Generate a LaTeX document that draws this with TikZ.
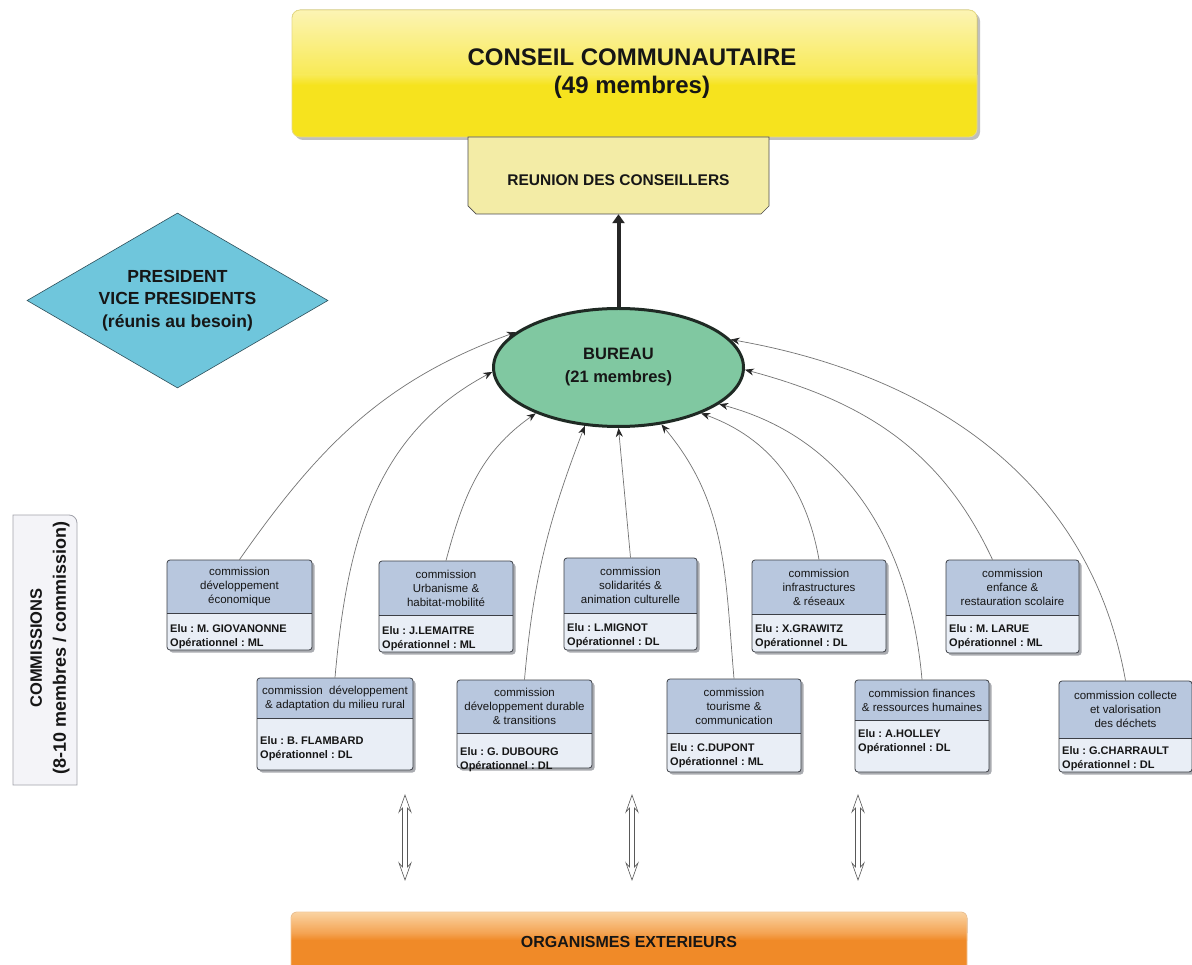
\documentclass[tikz,border=0pt]{standalone}
\usepackage{fontspec}
\setmainfont{Liberation Sans}
\usetikzlibrary{arrows.meta,shapes.geometric}
\frenchspacing

\definecolor{txt}{HTML}{161616}
\definecolor{yelMain}{HTML}{F6E31E}
\definecolor{yelTop}{HTML}{FCF4B4}
\definecolor{yelMid}{HTML}{F8EA55}
\definecolor{yelBorder}{HTML}{E6DA86}
\definecolor{reuFill}{HTML}{F3ECA6}
\definecolor{diaFill}{HTML}{6FC6DC}
\definecolor{diaBorder}{HTML}{2E4F5A}
\definecolor{burFill}{HTML}{80C8A1}
\definecolor{burBorder}{HTML}{1F2A24}
\definecolor{hdrFill}{HTML}{B8C7DE}
\definecolor{bodyFill}{HTML}{E9EEF6}
\definecolor{frameCol}{HTML}{3C3F46}
\definecolor{shadowCol}{HTML}{A9ABB0}
\definecolor{orMain}{HTML}{F08A28}
\definecolor{orTop}{HTML}{FAD3A2}
\definecolor{orMid}{HTML}{F4A352}
\definecolor{orBorder}{HTML}{F2C89A}
\definecolor{leftFill}{HTML}{F4F4F8}
\definecolor{leftBorder}{HTML}{A2A3AB}

\tikzset{
  conn/.style={draw=black!55, line width=0.7pt,
    -{Stealth[length=9pt,width=7pt,color=black!85]}},
  hdrtext/.style={font=\fontsize{11.5}{14}\selectfont, align=center, text=txt, inner sep=0pt},
  bodytext/.style={font=\bfseries\fontsize{11}{14}\selectfont, align=left, text=txt, inner sep=0pt},
  framebox/.style={draw=frameCol, line width=0.8pt, rounded corners=3pt, inner sep=0pt},
  hollowarrow/.style={draw=black!65, fill=white, line width=0.6pt, line join=miter},
}

% #1 name, #2 x1, #3 y1, #4 x2, #5 y header bottom, #6 y2, #7 header, #8 body, #9 y of first body line centre
\newcommand\CommBox[9]{%
  \fill[shadowCol, rounded corners=3pt] (#2+2.5,-#3-2.5) rectangle (#4+2.5,-#6-2.5);
  \fill[bodyFill, rounded corners=3pt] (#2,-#3) rectangle (#4,-#6);
  \fill[hdrFill] (#2,-#5) [rounded corners=3pt] -- (#2,-#3) -- (#4,-#3) [sharp corners] -- (#4,-#5) -- cycle;
  \draw[frameCol, line width=0.6pt] (#2,-#5) -- (#4,-#5);
  \node[framebox, minimum width={#4-#2}, minimum height={#6-#3}] (#1) at ({(#2+#4)/2},{-(#3+#6)/2}) {};
  \node[hdrtext] (#1h) at ({(#2+#4)/2},{-(#3+#5)/2}) {#7};
  \node[bodytext, anchor=north west] (#1b) at (#2+3,-#9+4) {#8};
}

\newcommand\HollowArrow[1]{%
  \draw[hollowarrow, shift={(#1)}] (0,0) -- (6,-17) -- (2.5,-13) -- (2.5,-72) -- (6,-68) -- (0,-85)
    -- (-6,-68) -- (-2.5,-72) -- (-2.5,-13) -- (-6,-17) -- cycle;
}

\begin{document}
\begin{tikzpicture}[x=1pt,y=1pt]
\useasboundingbox (0,0) rectangle (1192,-965);
\fill[white] (0,0) rectangle (1192,-965);

% ---------- Conseil communautaire ----------
\fill[black!25, rounded corners=8pt] (295,-13) rectangle (980,-140);
\fill[yelMain, rounded corners=8pt] (292,-10) rectangle (977,-137);
\fill[top color=yelTop, bottom color=yelMid] (292,-75) [rounded corners=8pt] -- (292,-10) -- (977,-10) [sharp corners] -- (977,-75) -- cycle;
\fill[top color=yelMid, bottom color=yelMain] (292,-75) rectangle (977,-85);
\draw[yelBorder, line width=0.8pt, rounded corners=8pt] (292,-10) rectangle (977,-137);
\node[font=\bfseries\fontsize{24}{28}\selectfont, align=center, text=txt, minimum width=685pt, minimum height=127pt, inner sep=0pt]
  (conseil) at (632,-74) {CONSEIL COMMUNAUTAIRE\\(49 membres)};

% ---------- Reunion des conseillers ----------
\draw[fill=reuFill, draw=black!70, line width=0.7pt] (468,-137) -- (769,-137) -- (769,-206) -- (761,-214) -- (476,-214) -- (468,-206) -- cycle;
\node[font=\bfseries\fontsize{15.5}{18}\selectfont, text=txt, minimum width=301pt, minimum height=68pt, inner sep=0pt]
  (reunion) at (618.5,-180) {REUNION DES CONSEILLERS};

% ---------- President diamond ----------
\node[diamond, draw=diaBorder, fill=diaFill, line width=0.6pt, aspect=1.72, inner sep=0pt,
  minimum width=301pt, minimum height=175pt,
  font=\bfseries\fontsize{17.5}{22.5}\selectfont, align=center, text=txt]
  (pres) at (177.5,-300.5) {PRESIDENT\\VICE PRESIDENTS\\(réunis au besoin)};

% ---------- Bureau ----------
\node[ellipse, draw=burBorder, line width=3pt, fill=burFill, minimum width=250pt, minimum height=118pt,
  inner sep=0pt, font=\bfseries\fontsize{16.5}{23}\selectfont, align=center, text=txt]
  (bureau) at (618.5,-367.5) {BUREAU\\(21 membres)};

\draw[line width=4pt, draw=black!85, -{Triangle[length=9pt,width=12pt]}] (bureau.north) -- (reunion.south);

% ---------- Left label box ----------
\draw[fill=leftFill, draw=leftBorder, line width=0.8pt] (13,-785) -- (13,-515) -- (69,-515) arc[start angle=90,end angle=0,radius=8] -- (77,-785) -- cycle;
\node[rotate=90, font=\bfseries\fontsize{16.5}{24}\selectfont, align=center, text=txt, inner sep=0pt]
  (commlabel) at (50,-648) {COMMISSIONS\\\fontsize{18}{24}\selectfont(8-10 membres / commission)};

% ---------- Commissions ----------
\CommBox{c1}{167}{560}{312}{613}{650}{commission\\développement\\économique}{Elu : M. GIOVANONNE\\Opérationnel : ML}{628}
\CommBox{c3}{379}{561}{513}{615}{652}{commission\\Urbanisme \&\\habitat-mobilité}{Elu : J.LEMAITRE\\Opérationnel : ML}{630}
\CommBox{c5}{564}{558}{697}{613}{650}{commission\\solidarités \&\\animation culturelle}{Elu : L.MIGNOT\\Opérationnel : DL}{627}
\CommBox{c7}{752}{560}{886}{614}{652}{commission\\infrastructures\\\& réseaux}{Elu : X.GRAWITZ\\Opérationnel : DL}{628}
\CommBox{c9}{946}{560}{1079}{615}{653}{commission\\enfance \&\\restauration scolaire}{Elu : M. LARUE\\Opérationnel : ML}{628}
\CommBox{c2}{257}{678}{413}{718}{770}{commission~ développement\\\& adaptation du milieu rural}{Elu : B. FLAMBARD\\Opérationnel : DL}{740}
\CommBox{c4}{457}{680}{592}{733}{768}{commission\\développement durable\\\& transitions}{Elu : G. DUBOURG\\Opérationnel : DL}{751}
\CommBox{c6}{667}{679}{801}{733}{772}{commission\\tourisme \&\\communication}{Elu : C.DUPONT\\Opérationnel : ML}{747}
\CommBox{c8}{855}{680}{989}{720}{772}{commission finances\\\& ressources humaines}{Elu : A.HOLLEY\\Opérationnel : DL}{733}
\CommBox{c10}{1059}{681}{1192}{738}{772}{commission collecte\\et valorisation\\des déchets}{Elu : G.CHARRAULT\\Opérationnel : DL}{750}

% ---------- Connectors to bureau ----------
\draw[conn] (c1.north) to[out=55,in=200] (bureau.161);
\draw[conn] (c2.north) to[out=85,in=208] (bureau.182);
\draw[conn] (c3.north) to[out=75,in=215] (bureau.209);
\draw[conn] (c4.north) to[out=85,in=249] (bureau.240);
\draw[conn] (c5.north) -- (bureau.270);
\draw[conn] (c6.north) to[out=95,in=-50] (bureau.307);
\draw[conn] (c7.north) to[out=100,in=-20] (bureau.331);
\draw[conn] (c8.north) to[out=95,in=-15] (bureau.340);
\draw[conn] ([xshift=-20pt]c9.north) to[out=115,in=-15] (bureau.359);
\draw[conn] (c10.north) to[out=100,in=-10] (bureau.14);

% ---------- Organismes exterieurs ----------
\fill[orMain, rounded corners=6pt] (291,-912) rectangle (967,-975);
\fill[top color=orTop, bottom color=orMid] (291,-933) [rounded corners=6pt] -- (291,-912) -- (967,-912) [sharp corners] -- (967,-933) -- cycle;
\fill[top color=orMid, bottom color=orMain] (291,-933) rectangle (967,-940);
\draw[orBorder, line width=0.8pt, rounded corners=6pt] (291,-912) rectangle (967,-975);
\node[font=\bfseries\fontsize{16}{19}\selectfont, text=txt, inner sep=0pt] (orga) at (629,-942) {ORGANISMES EXTERIEURS};

% ---------- Double arrows ----------
\coordinate (ext1) at (405,-795);
\coordinate (ext2) at (632,-795);
\coordinate (ext3) at (858,-795);
\HollowArrow{ext1}
\HollowArrow{ext2}
\HollowArrow{ext3}
\end{tikzpicture}
\end{document}
